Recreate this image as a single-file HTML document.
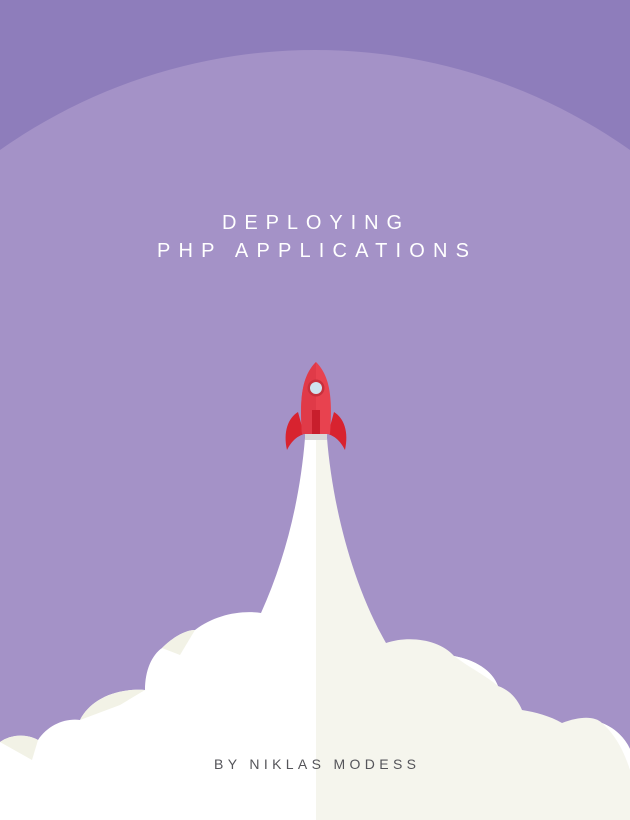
<!DOCTYPE html>
<html><head><style>html,body{margin:0;padding:0;width:630px;height:820px;overflow:hidden;background:#8e7dbb}</style></head>
<body>
<svg width="630" height="820" viewBox="0 0 630 820" xmlns="http://www.w3.org/2000/svg" style="display:block">
<rect width="630" height="820" fill="#8e7dbb"/>
<circle cx="315" cy="596" r="546" fill="#a492c7"/>
<text x="222" y="229" font-family="Liberation Sans, sans-serif" font-size="20" fill="#fff" textLength="180" lengthAdjust="spacing">DEPLOYING</text>
<text x="157" y="257" font-family="Liberation Sans, sans-serif" font-size="20" fill="#fff" textLength="312" lengthAdjust="spacing">PHP APPLICATIONS</text>
<path d="M305 438 L316 438 L316 820 L0 820 L0 742 C10 735 25 733 38 740 C48 725 65 718 80 720 C90 700 115 688 145 690 C145 670 152 655 162 648 C172 638 185 630 195 630 C215 615 240 610 261 613 C285 560 300 500 305 438 Z" fill="#ffffff"/>
<path d="M316 438 L327 438 C332 500 350 580 386 643 C410 635 440 640 454 656 C475 660 492 670 498 686 C510 690 518 700 522 710 C535 712 550 716 562 723 C580 716 595 716 602 723 C615 728 625 738 630 749 L630 820 L316 820 Z" fill="#f5f5ed"/>
<path d="M0 742 C10 735 25 733 38 740 L32 760 Z" fill="#f2f2e6"/>
<path d="M80 720 C90 700 115 688 145 690 L120 705 Z" fill="#f2f2e6"/>
<path d="M162 648 C172 638 185 630 195 630 L180 655 Z" fill="#f2f2e6"/>
<path d="M454 656 C475 660 492 670 498 686 C485 675 470 668 454 656 Z" fill="#fff"/>
<path d="M602 723 C615 728 625 738 630 749 L630 770 C622 745 612 732 602 723 Z" fill="#fff"/>
<text x="214" y="769" font-family="Liberation Sans, sans-serif" font-size="14" fill="#55555a" textLength="202" lengthAdjust="spacing">BY NIKLAS MODESS</text>
<rect x="305" y="432" width="22" height="8" fill="#d9d9d9"/>
<path d="M298 412 C288 418 283 432 287 450 C292 440 298 436 304 434 Z" fill="#d8232f"/>
<path d="M334 412 C344 418 349 432 345 450 C340 440 334 436 328 434 Z" fill="#d8232f"/>
<path d="M316 362 C303 375 299 395 302 434 L330 434 C333 395 329 375 316 362 Z" fill="#e8424f"/>
<path d="M316 362 C303 375 299 395 302 434 L316 434 Z" fill="#e03a48"/>
<rect x="312" y="410" width="8" height="24" fill="#c81e2c"/>
<circle cx="316" cy="388" r="8.5" fill="#c8303c"/>
<circle cx="316" cy="388" r="6" fill="#cfe3ef"/>
</svg>
</body></html>
